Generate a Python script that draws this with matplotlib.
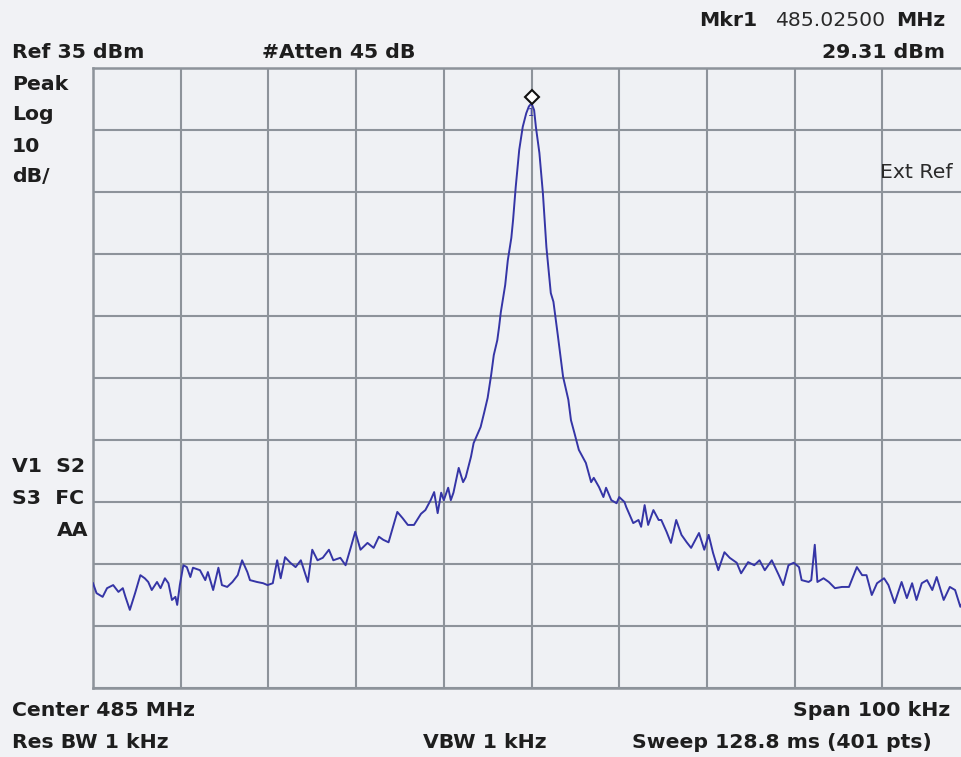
import matplotlib
matplotlib.use("Agg")
import matplotlib.pyplot as plt
import matplotlib.transforms as mtransforms

# ---- data (offset from center in kHz, level in dBm) ----
freq_khz = [
    -50.0, -49.6, -48.9, -48.4, -47.7, -47.1, -46.6, -46.3, -45.8, -45.2,
    -44.6, -44.1, -43.7, -43.3, -42.7, -42.3, -41.8, -41.4, -41.0, -40.6,
    -40.4, -40.1, -39.7, -39.3, -38.9, -38.6, -37.8, -37.2, -36.9, -36.3,
    -35.7, -35.3, -34.7, -34.1, -33.5, -33.0, -32.4, -32.1, -31.3, -30.6,
    -30.1, -29.5, -29.0, -28.6, -28.1, -27.5, -26.9, -26.3, -25.5, -25.0,
    -24.4, -23.8, -23.1, -22.6, -21.8, -21.2, -20.6, -20.1, -19.5, -18.7,
    -18.0, -17.4, -16.9, -16.3, -15.3, -14.7, -14.1, -13.4, -12.6, -12.1,
    -11.5, -11.1, -10.7, -10.3, -10.0, -9.5, -9.2, -8.9, -8.3, -7.8,
    -7.5, -6.9, -6.6, -6.1, -5.8, -5.4, -5.0, -4.6, -4.3, -3.9,
    -3.7, -3.5, -3.0, -2.7, -2.3, -2.1, -1.8, -1.4, -1.0, -0.6,
    -0.3, 0.0,
    0.3, 0.5, 0.9, 1.3, 1.7, 2.0, 2.2, 2.5, 3.0, 3.6,
    4.2, 4.5, 4.9, 5.4, 6.2, 6.8, 7.1, 7.7, 8.2, 8.5,
    9.1, 9.7, 10.0, 10.6, 10.8, 11.6, 12.2, 12.5, 12.9, 13.3,
    13.9, 14.5, 14.8, 15.4, 15.9, 16.5, 17.1, 17.7, 18.2, 19.1,
    19.7, 20.2, 20.7, 21.3, 22.0, 22.6, 23.4, 23.9, 24.7, 25.4,
    26.0, 26.6, 27.4, 28.2, 28.7, 29.3, 29.9, 30.5, 30.8, 31.6,
    31.9, 32.3, 32.6, 33.3, 33.9, 34.6, 35.4, 36.2, 37.1, 37.7,
    38.2, 38.8, 39.4, 40.2, 40.7, 41.4, 42.2, 42.8, 43.4, 43.9,
    44.5, 45.1, 45.7, 46.2, 47.0, 47.7, 48.3, 48.9, 49.3,
]
level_dbm = [
    -48.1, -49.7, -50.3, -48.9, -48.4, -49.5, -48.9, -50.3, -52.4, -49.7,
    -46.8, -47.3, -47.9, -49.2, -47.9, -48.9, -47.3, -48.1, -50.8, -50.3,
    -51.6, -48.4, -45.2, -45.5, -47.1, -45.6, -46.0, -47.6, -46.3, -49.2,
    -45.6, -48.4, -48.7, -47.9, -46.8, -44.4, -46.3, -47.6, -47.9, -48.1,
    -48.4, -48.1, -44.4, -47.3, -43.9, -44.8, -45.5, -44.4, -47.9, -42.7,
    -44.4, -44.0, -42.7, -44.4, -44.0, -45.2, -42.3, -39.8, -42.7, -41.6,
    -42.4, -40.6, -41.1, -41.5, -36.6, -37.6, -38.7, -38.7, -36.9, -36.3,
    -34.7, -33.4, -36.8, -33.5, -34.7, -32.7, -34.7, -33.5, -29.5, -31.8,
    -31.0, -27.7, -25.5, -23.9, -22.9, -20.6, -18.2, -14.5, -11.3, -8.9,
    -6.8, -4.4, 0.0, 4.0, 7.6, 10.5, 15.8, 21.8, 25.5, 27.7,
    28.8, 29.31,
    28.2, 25.5, 21.3, 14.8, 6.1, 1.6, -1.3, -2.7, -8.1, -14.8,
    -18.5, -21.8, -23.9, -26.6, -28.7, -31.8, -31.1, -32.6, -34.2, -32.7,
    -34.7, -35.2, -34.2, -35.0, -35.8, -38.4, -37.9, -39.0, -35.5, -38.7,
    -36.3, -37.9, -37.9, -39.8, -41.6, -37.9, -40.3, -41.5, -42.4, -40.0,
    -42.7, -40.3, -43.2, -46.0, -43.1, -44.0, -44.8, -46.5, -44.7, -45.2,
    -44.4, -46.0, -44.4, -46.8, -48.4, -45.2, -44.8, -45.5, -47.6, -47.9,
    -47.6, -41.9, -47.9, -47.3, -47.9, -48.9, -48.7, -48.7, -45.5, -46.8,
    -46.8, -50.0, -48.1, -47.3, -48.4, -51.3, -47.9, -50.5, -48.1, -50.8,
    -48.1, -47.6, -49.2, -47.1, -50.8, -48.7, -49.2, -51.9, -50.8,
]
ref_level = 35
db_per_div = 10
n_div = 10
span_khz = 100
marker_freq = 0.0
marker_level = 29.31

# header / footer texts
txt_ref = "Ref 35 dBm"
txt_atten = "#Atten 45 dB"
txt_mkr = "Mkr1"
txt_mkr_freq = "485.02500"
txt_mkr_unit = "MHz"
txt_mkr_level = "29.31 dBm"
left_labels = ["Peak", "Log", "10", "dB/"]
txt_extref = "Ext Ref"
status_lines = ["V1  S2", "S3  FC"]
txt_aa = "AA"
txt_center = "Center 485 MHz"
txt_span = "Span 100 kHz"
txt_rbw = "Res BW 1 kHz"
txt_vbw = "VBW 1 kHz"
txt_sweep = "Sweep 128.8 ms (401 pts)"

W, H = 962, 757
BG = "#f1f2f5"
GRID = "#8d939a"
TRACE = "#3535a6"
TXT = "#1e1e1e"
FONT = "DejaVu Sans"

fig = plt.figure(figsize=(W / 100, H / 100), dpi=100, facecolor=BG)

# axes in pixel geometry
x0, x1 = 93, 970
y0, y1 = 68, 688
ax = fig.add_axes([x0 / W, 1 - y1 / H, (x1 - x0) / W, (y1 - y0) / H])
ax.set_facecolor("#eff1f4")
ax.set_xlim(-span_khz / 2, span_khz / 2)
bottom = ref_level - db_per_div * n_div
ax.set_ylim(bottom, ref_level)
ax.set_xticks([-span_khz / 2 + i * span_khz / n_div for i in range(n_div + 1)])
ax.set_yticks([bottom + i * db_per_div for i in range(n_div + 1)])
ax.tick_params(length=0, labelleft=False, labelbottom=False)
ax.grid(True, color=GRID, linewidth=1.5)
for s in ax.spines.values():
    s.set_color(GRID)
    s.set_linewidth(1.8)
ax.set_axisbelow(True)

ax.plot(freq_khz, level_dbm, color=TRACE, linewidth=1.4, zorder=3)

# marker diamond slightly above peak
off = mtransforms.offset_copy(ax.transData, fig=fig, x=0, y=6, units="dots")
ax.plot([marker_freq], [marker_level], marker="D", markersize=7,
        markerfacecolor="white", markeredgecolor="#111111", markeredgewidth=1.5,
        transform=off, zorder=5, clip_on=False)
off2 = mtransforms.offset_copy(ax.transData, fig=fig, x=0, y=-10, units="dots")
ax.text(marker_freq, marker_level, "1", transform=off2, fontsize=7,
        color=TRACE, ha="center", va="center", family=FONT, zorder=4)

fs = 14.7


def T(x, y, s, ha="left", weight="bold", color=TXT, size=fs):
    fig.text(x / W, 1 - y / H, s, ha=ha, va="center", fontsize=size,
             fontweight=weight, color=color, family=FONT)


T(945, 21, txt_mkr_unit, ha="right")
T(885, 21, txt_mkr_freq, ha="right", weight="normal", color="#2a2a2a")
T(757, 21, txt_mkr, ha="right")
T(945, 52, txt_mkr_level, ha="right")
T(12, 53, txt_ref)
T(262, 53, txt_atten)
for lbl, yy in zip(left_labels, [84, 115, 147, 177]):
    T(12, yy, lbl)
T(953, 172, txt_extref, ha="right", weight="normal", color="#2a2a2a")
for lbl, yy in zip(status_lines, [467, 498]):
    T(12, yy, lbl)
T(88, 530, txt_aa, ha="right")
T(12, 710, txt_center)
T(950, 710, txt_span, ha="right")
T(12, 742, txt_rbw)
T(423, 742, txt_vbw)
T(632, 742, txt_sweep)

fig.savefig("out.png", dpi=100, facecolor=BG)
